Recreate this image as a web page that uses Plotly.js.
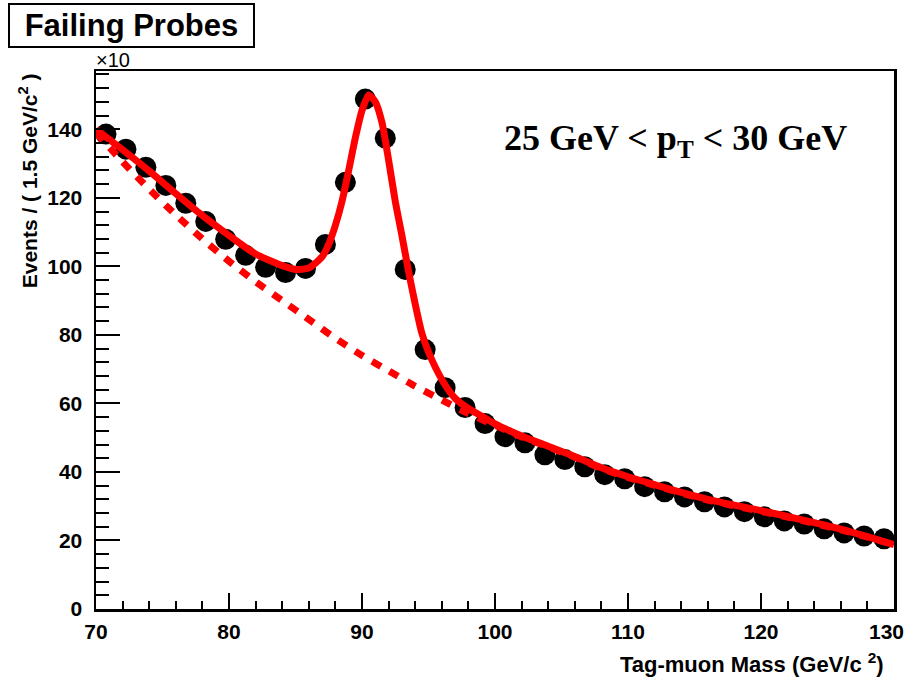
<!DOCTYPE html>
<html>
<head>
<meta charset="utf-8">
<script src="https://cdn.plot.ly/plotly-3.0.1.min.js"></script>
<style>
  html, body { margin: 0; padding: 0; background: #ffffff; }
  #chart { width: 909px; height: 682px; }
</style>
</head>
<body>
<div id="chart"></div>
<script>
// Data points: bin centers (GeV/c^2) and events (x10) per 1.5 GeV/c^2
const binCenters = [70.75, 72.25, 73.75, 75.25, 76.75, 78.25, 79.75, 81.25, 82.75, 84.25,
                    85.75, 87.25, 88.75, 90.25, 91.75, 93.25, 94.75, 96.25, 97.75, 99.25,
                    100.75, 102.25, 103.75, 105.25, 106.75, 108.25, 109.75, 111.25, 112.75, 114.25,
                    115.75, 117.25, 118.75, 120.25, 121.75, 123.25, 124.75, 126.25, 127.75, 129.25];
const events = [138.6, 134.2, 128.9, 123.6, 118.4, 113.1, 107.9, 103.2, 99.7, 98.2,
                99.4, 106.4, 124.5, 148.8, 137.4, 99.1, 75.7, 64.6, 58.8, 54.1,
                50.3, 48.5, 45.0, 43.6, 41.5, 39.2, 38.0, 35.7, 34.2, 32.7,
                31.3, 29.8, 28.4, 26.9, 25.7, 24.8, 23.4, 22.2, 21.3, 20.5];

// Full fit curve (signal + background)
const fitMass = [70, 72, 74, 76, 78, 80, 82, 84, 85, 86, 87, 87.5, 88, 88.5, 89, 89.5, 90, 90.5,
                 91, 91.5, 92, 92.5, 93, 93.5, 94, 94.5, 95, 96, 97, 98, 99, 100, 102, 104, 106,
                 108, 110, 112, 114, 116, 118, 120, 122, 124, 126, 128, 130];
const fitValue = [140, 134, 127.8, 121.2, 114.8, 109, 103.6, 100.2, 99.1, 99.5, 102.8, 106.5, 112,
                  119, 128, 137.5, 145.5, 150, 148, 142, 131, 119, 109, 98.5, 89, 80.5, 75, 67,
                  61.5, 58.5, 56.3, 54, 50.5, 47.5, 44.5, 41.2, 38.6, 36.3, 34, 32, 30.3, 28.7,
                  27, 25.2, 23.3, 21.1, 18.8];

// Background-only component (dashed)
const bkgMass = [70, 72, 74, 76, 78, 80, 82, 84, 86, 88, 90, 92, 94, 96, 98, 100, 102, 104, 106,
                 108, 110, 112, 114, 116, 118, 120, 122, 124, 126, 128, 130];
const bkgValue = [139, 130.5, 122.5, 115, 108, 101.5, 95.5, 90, 84.5, 79, 74, 69.5, 65, 61, 57,
                  53.6, 50.2, 47.3, 44.3, 41, 38.4, 36.1, 33.8, 31.8, 30.1, 28.5, 26.8, 25, 23.1,
                  21, 18.7];

// x tick labels; the last one (130) sits at the right edge and is drawn as a right-anchored label
const xTickVals = [70, 80, 90, 100, 110, 120, 130];
const xTickText = ['70', '80', '90', '100', '110', '120', ''];
const xEdgeLabel = '130';
const yTickVals = [0, 20, 40, 60, 80, 100, 120, 140];

const xTitle = 'Tag-muon Mass (GeV/c <sup>2</sup>)';
const yTitle = 'Events / ( 1.5 GeV/c<sup>2</sup> )';
const boxTitle = 'Failing Probes';
const rangeLabel = '25 GeV &lt; p<sub>T</sub> &lt; 30 GeV';

const sans = 'Liberation Sans, Arial, Helvetica, sans-serif';
const serif = 'Liberation Serif, Times New Roman, serif';

const traces = [
  {
    x: binCenters, y: events, type: 'scatter', mode: 'markers',
    marker: { color: '#000000', size: 21, symbol: 'circle' },
    hoverinfo: 'x+y', showlegend: false
  },
  {
    x: bkgMass, y: bkgValue, type: 'scatter', mode: 'lines',
    line: { color: '#ff0000', width: 7, dash: '10px,10px', shape: 'spline', smoothing: 0.6 },
    showlegend: false
  },
  {
    x: fitMass, y: fitValue, type: 'scatter', mode: 'lines',
    line: { color: '#ff0000', width: 7, shape: 'spline', smoothing: 0.6 },
    showlegend: false
  }
];

const layout = {
  width: 909, height: 682,
  margin: { l: 96, r: 15, t: 71, b: 73, pad: 0 },
  paper_bgcolor: '#ffffff', plot_bgcolor: '#ffffff',
  showlegend: false,
  xaxis: {
    range: [70, 130], tickmode: 'array', tickvals: xTickVals, ticktext: xTickText,
    ticks: 'inside', ticklen: 16, tickwidth: 2, tickcolor: '#000000',
    minor: { dtick: 2, tick0: 70, ticks: 'inside', ticklen: 8, tickwidth: 2, tickcolor: '#000000' },
    showline: true, linewidth: 2.5, linecolor: '#000000', mirror: true,
    showgrid: false, zeroline: false,
    ticklabelstandoff: 2,
    tickfont: { family: sans, size: 21, color: '#000000', weight: 'bold' }
  },
  yaxis: {
    range: [0, 157], tickmode: 'array', tickvals: yTickVals, ticktext: yTickVals.map(String),
    ticks: 'inside', ticklen: 24, tickwidth: 2, tickcolor: '#000000',
    minor: { dtick: 4, tick0: 0, ticks: 'inside', ticklen: 13, tickwidth: 2, tickcolor: '#000000' },
    showline: true, linewidth: 2.5, linecolor: '#000000', mirror: true,
    showgrid: false, zeroline: false,
    ticklabelstandoff: 7,
    tickfont: { family: sans, size: 21, color: '#000000', weight: 'bold' }
  },
  annotations: [
    {
      text: xEdgeLabel, xref: 'x', yref: 'paper',
      x: 130, xshift: 12, y: 0, yshift: -22, xanchor: 'right', yanchor: 'middle', showarrow: false,
      font: { family: sans, size: 21, color: '#000000', weight: 'bold' }
    },
    {
      text: boxTitle, xref: 'paper', yref: 'paper',
      x: -0.1103, y: 1.0855, xanchor: 'left', yanchor: 'middle',
      showarrow: false, width: 241, height: 39, borderpad: 1,
      bordercolor: '#000000', borderwidth: 2, bgcolor: '#ffffff',
      font: { family: sans, size: 31, color: '#000000', weight: 'bold' }
    },
    {
      text: '\u00d710', xref: 'paper', yref: 'paper',
      x: -0.002, y: 1.0204, xanchor: 'left', yanchor: 'middle', showarrow: false,
      font: { family: sans, size: 20, color: '#000000' }
    },
    {
      text: rangeLabel, xref: 'paper', yref: 'paper',
      x: 0.7256, y: 0.8717, xanchor: 'center', yanchor: 'middle', showarrow: false,
      font: { family: serif, size: 36, color: '#000000', weight: 'bold' }
    },
    {
      text: yTitle, xref: 'paper', yref: 'paper',
      x: -0.0852, y: 0.795, xanchor: 'center', yanchor: 'middle', showarrow: false,
      textangle: -90,
      font: { family: sans, size: 21, color: '#000000', weight: 'bold' }
    },
    {
      text: xTitle, xref: 'paper', yref: 'paper',
      x: 1, xshift: -8, y: -0.1, xanchor: 'right', yanchor: 'middle', showarrow: false,
      font: { family: sans, size: 22, color: '#000000', weight: 'bold' }
    }
  ]
};

Plotly.newPlot('chart', traces, layout, { displayModeBar: false, staticPlot: true });
</script>
</body>
</html>
